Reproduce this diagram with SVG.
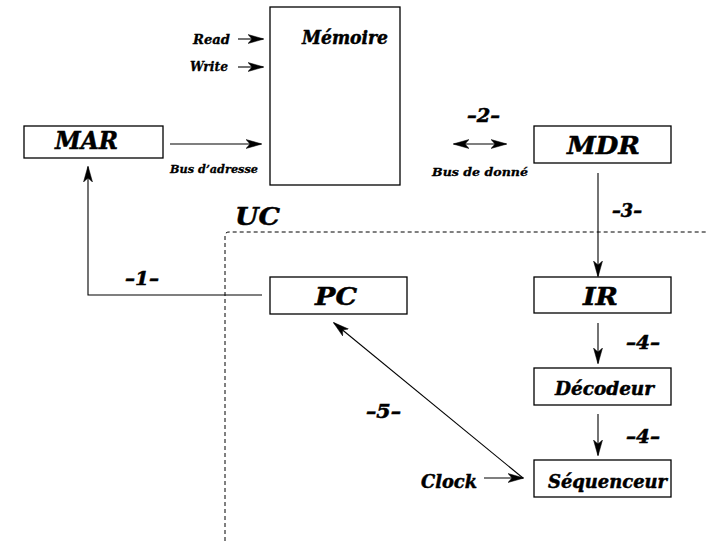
<svg xmlns="http://www.w3.org/2000/svg" width="706" height="541" viewBox="0 0 706 541">
<defs>
<marker id="ah" markerWidth="16" markerHeight="10" refX="15" refY="5" orient="auto-start-reverse" markerUnits="userSpaceOnUse">
<path d="M0,0.5 L16,5 L0,9.5 L4,5 z" fill="#000" stroke="#000" stroke-width="0.5"/>
</marker>
<style>
.box{fill:#fff;stroke:#000;stroke-width:1.3}
.ln{fill:none;stroke:#000;stroke-width:1.1}
.t{font-family:"DejaVu Serif","Liberation Serif",serif;font-weight:bold;font-style:italic;fill:#000;stroke:#000;stroke-width:0.5}
.big{font-size:24px}
.mid{font-size:18px}
.sm{font-size:13px;stroke-width:0.3}
.xs{font-size:11.5px;stroke-width:0.3}
</style>
</defs>
<rect width="706" height="541" fill="#fff"/>
<g id="uc">
<path d="M225,541 L225,236 Q225,232 229,232 L706,232" fill="none" stroke="#000" stroke-width="1" stroke-dasharray="4,3"/>
<text class="t big" x="235" y="225" textLength="45" lengthAdjust="spacingAndGlyphs">UC</text>
</g>
<g id="memoire">
<rect class="box" x="270" y="7" width="130" height="178"/>
<text class="t mid" x="302" y="44" textLength="86" lengthAdjust="spacingAndGlyphs">Mémoire</text>
</g>
<g id="mar">
<rect class="box" x="24" y="126" width="139" height="32"/>
<text class="t big" x="55" y="149" textLength="63" lengthAdjust="spacingAndGlyphs">MAR</text>
</g>
<g id="mdr">
<rect class="box" x="534" y="126" width="137" height="37"/>
<text class="t big" x="567" y="154" textLength="73" lengthAdjust="spacingAndGlyphs">MDR</text>
</g>
<g id="pc">
<rect class="box" x="270" y="277" width="137" height="37"/>
<text class="t big" x="315" y="305" textLength="42" lengthAdjust="spacingAndGlyphs">PC</text>
</g>
<g id="ir">
<rect class="box" x="534" y="277" width="137" height="36"/>
<text class="t big" x="583" y="305" textLength="35" lengthAdjust="spacingAndGlyphs">IR</text>
</g>
<g id="decodeur">
<rect class="box" x="534" y="368" width="137" height="37"/>
<text class="t mid" x="555" y="395" textLength="99" lengthAdjust="spacingAndGlyphs">Décodeur</text>
</g>
<g id="sequenceur">
<rect class="box" x="534" y="460" width="137" height="37"/>
<text class="t mid" x="548" y="488" textLength="119" lengthAdjust="spacingAndGlyphs">Séquenceur</text>
</g>
<g id="connectors">
<line class="ln" x1="238" y1="39" x2="263" y2="39" marker-end="url(#ah)"/>
<line class="ln" x1="238" y1="67" x2="263" y2="67" marker-end="url(#ah)"/>
<line class="ln" x1="170" y1="144" x2="261" y2="144" marker-end="url(#ah)"/>
<line class="ln" x1="454" y1="144" x2="506" y2="144" marker-start="url(#ah)" marker-end="url(#ah)"/>
<line class="ln" x1="598" y1="173" x2="598" y2="276" marker-end="url(#ah)"/>
<polyline class="ln" points="262,295 88,295 88,167" marker-end="url(#ah)"/>
<line class="ln" x1="598" y1="323" x2="598" y2="363" marker-end="url(#ah)"/>
<line class="ln" x1="598" y1="414" x2="598" y2="455" marker-end="url(#ah)"/>
<line class="ln" x1="484" y1="478" x2="523" y2="478" marker-end="url(#ah)"/>
<line class="ln" x1="523" y1="478" x2="334" y2="323" marker-end="url(#ah)"/>
</g>
<g id="labels">
<text class="t sm" x="193" y="44" textLength="37" lengthAdjust="spacingAndGlyphs">Read</text>
<text class="t sm" x="190" y="71" textLength="38" lengthAdjust="spacingAndGlyphs">Write</text>
<text class="t xs" x="170" y="173" textLength="88" lengthAdjust="spacingAndGlyphs">Bus d’adresse</text>
<text class="t xs" x="432" y="176" textLength="96" lengthAdjust="spacingAndGlyphs">Bus de donné</text>
<text class="t mid" x="467" y="122" textLength="33" lengthAdjust="spacingAndGlyphs">–2–</text>
<text class="t mid" x="612" y="217" textLength="30" lengthAdjust="spacingAndGlyphs">–3–</text>
<text class="t mid" x="125" y="285" textLength="34" lengthAdjust="spacingAndGlyphs">–1–</text>
<text class="t mid" x="626" y="349" textLength="34" lengthAdjust="spacingAndGlyphs">–4–</text>
<text class="t mid" x="626" y="443" textLength="34" lengthAdjust="spacingAndGlyphs">–4–</text>
<text class="t mid" x="366" y="418" textLength="35" lengthAdjust="spacingAndGlyphs">–5–</text>
<text class="t mid" x="421" y="488" textLength="56" lengthAdjust="spacingAndGlyphs">Clock</text>
</g>
</svg>
